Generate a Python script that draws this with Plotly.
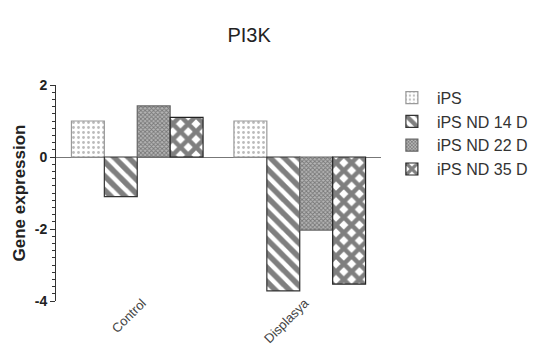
import plotly.graph_objects as go

categories = ["Control", "Displasya"]
series_names = ["iPS", "iPS ND 14 D", "iPS ND 22 D", "iPS ND 35 D"]
ips = [1.0, 1.0]
nd14 = [-1.1, -3.72]
nd22 = [1.42, -2.03]
nd35 = [1.1, -3.53]
y_ticks = [2, 0, -2, -4]

values = [ips, nd14, nd22, nd35]
patterns = [
    dict(shape=".", fgcolor="#777777", bgcolor="white", size=5, solidity=0.25),
    dict(shape="\\", fgcolor="#000000", bgcolor="white", size=10, solidity=0.55),
    dict(shape="x", fgcolor="#3a3a3a", bgcolor="#b5b5b5", size=3, solidity=0.5),
    dict(shape="x", fgcolor="#000000", bgcolor="white", size=11, solidity=0.65),
]
line_colors = ["#9a9a9a", "#333333", "#666666", "#222222"]

fig = go.Figure()
for name, vals, pat, lc in zip(series_names, values, patterns, line_colors):
    fig.add_trace(go.Bar(
        x=categories, y=vals, name=name,
        marker=dict(color="white", pattern=pat, line=dict(color=lc, width=1.2)),
    ))

fig.update_layout(
    width=544, height=347,
    barmode="group", bargap=0.19, bargroupgap=0,
    paper_bgcolor="white", plot_bgcolor="white",
    margin=dict(l=56, r=162, t=85, b=46),
    font=dict(family="Liberation Sans, Arial", color="#222222"),
    title=dict(text="PI3K", x=0.458, xanchor="center", y=0.9, yanchor="middle",
               font=dict(size=20, color="#222222")),
    showlegend=True,
    legend=dict(x=1.015, xanchor="left", y=1.02, yanchor="top",
                font=dict(size=16, color="#333333"), tracegroupgap=0,
                itemwidth=40, bgcolor="rgba(0,0,0,0)"),
)
fig.update_xaxes(showline=False, ticks="", showgrid=False, tickangle=-45, automargin=False,
                 ticklabelstandoff=-9, ticklabelshift=5,
                 tickfont=dict(size=13, color="#444444"), range=[-0.5, 1.5])
fig.update_yaxes(range=[-4, 2], tickvals=y_ticks, ticktext=[str(v) for v in y_ticks],
                 automargin=False,
                 showline=True, linecolor="#333333", linewidth=1,
                 ticks="outside", ticklen=5, tickcolor="#333333",
                 minor=dict(dtick=0.2, ticks="outside", ticklen=3, tickcolor="#333333"),
                 showgrid=False, zeroline=True, zerolinecolor="#777777", zerolinewidth=1.2,
                 tickfont=dict(size=14, color="#222222", weight="bold"),
                 title=dict(text="Gene expression", font=dict(size=17, color="#222222", weight="bold"),
                            standoff=4))

fig.write_html("out.html", post_script="document.body.style.margin='0';",
               config={"displayModeBar": False})
